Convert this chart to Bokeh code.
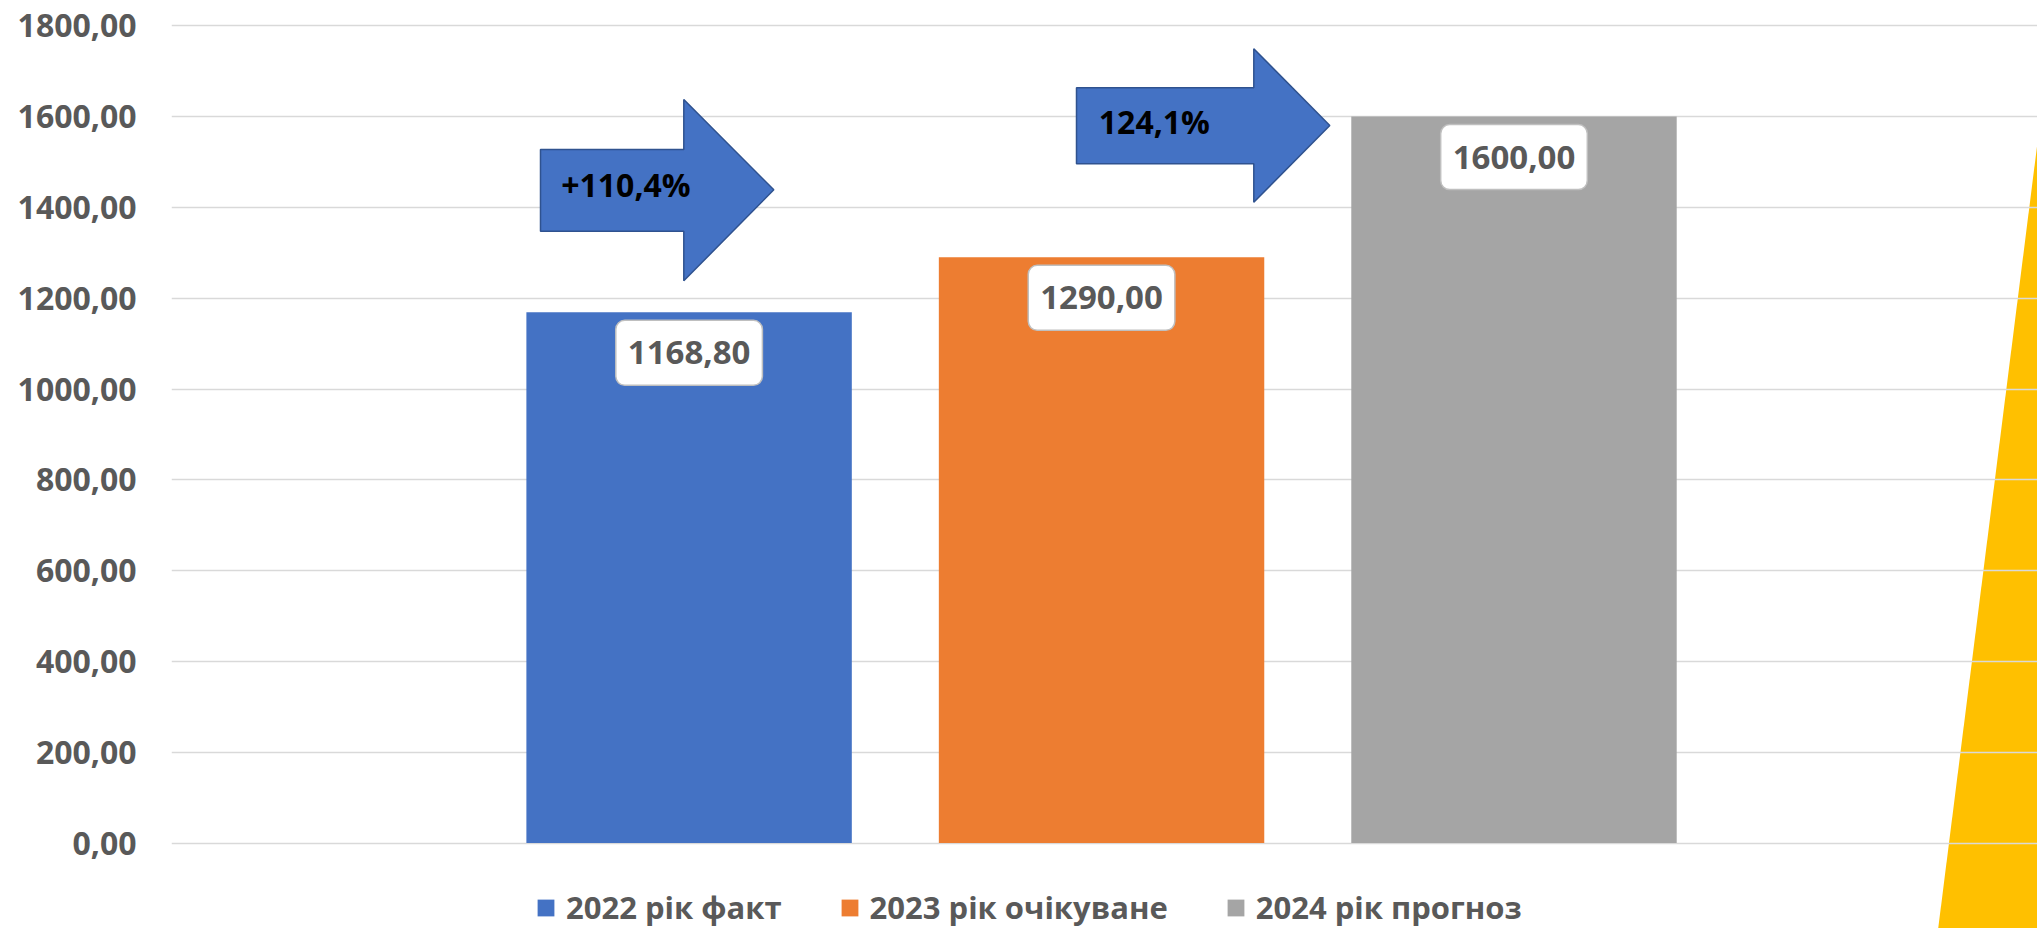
from bokeh.plotting import figure
from bokeh.models import ColumnDataSource, Range1d, Label
from bokeh.embed import file_html
from bokeh.resources import INLINE

# ---------------- data ----------------
categories = ["2022 рік факт", "2023 рік очікуване", "2024 рік прогноз"]
values = [1168.80, 1290.00, 1600.00]
value_labels = ["1168,80", "1290,00", "1600,00"]
growth_labels = ["+110,4%", "124,1%"]
y_ticks = [0, 200, 400, 600, 800, 1000, 1200, 1400, 1600, 1800]
y_tick_labels = ["0,00", "200,00", "400,00", "600,00", "800,00",
                 "1000,00", "1200,00", "1400,00", "1600,00", "1800,00"]
colors = ["#4472C4", "#ED7D31", "#A5A5A5"]

# ---------------- layout ----------------
W, H = 2037, 928
FONT = "Open Sans"
TXT = "#595959"

# helpers to place decorations (reference-pixel -> data units)
PX0, PXSTEP = 688.6, 412.45     # x pixel of category 0, pixels per category
PY0, PYSCALE = 842.5, 0.454     # y pixel of value 0, pixels per unit
FRAME_LEFT = 171


def dx(px):
    return (px - PX0) / PXSTEP


def dy(py):
    return (PY0 - py) / PYSCALE


x_start = (FRAME_LEFT - PX0) / PXSTEP
x_end = (W - PX0) / PXSTEP
y_end = PY0 / PYSCALE
y_start = -(H - PY0) / PYSCALE

p = figure(width=W, height=H, output_backend="svg", toolbar_location=None, tools="",
           x_range=Range1d(x_start, x_end), y_range=Range1d(y_start, y_end),
           x_axis_location=None, y_axis_location="left",
           min_border_left=FRAME_LEFT, min_border_right=0,
           min_border_top=0, min_border_bottom=0)
p.outline_line_color = None
p.background_fill_color = "white"
p.border_fill_color = "white"

# y axis
p.yaxis.ticker = y_ticks
p.yaxis.major_label_overrides = {t: l for t, l in zip(y_ticks, y_tick_labels)}
p.yaxis.axis_line_color = None
p.yaxis.major_tick_line_color = None
p.yaxis.minor_tick_line_color = None
p.yaxis.major_tick_out = 0
p.yaxis.major_tick_in = 0
p.yaxis.major_label_standoff = 35
p.yaxis.major_label_text_font = FONT
p.yaxis.major_label_text_font_style = "bold"
p.yaxis.major_label_text_font_size = "32px"
p.yaxis.major_label_text_color = TXT

p.xgrid.visible = False
p.ygrid.grid_line_color = "#D9D9D9"
p.ygrid.grid_line_width = 1.3

# yellow decorative wedge at the right edge
slope = (1937.7 - 2037) / (928 - 142)
bottom_x = 2037 + slope * (960 - 142)
yx = [dx(2037), dx(bottom_x), dx(2200), dx(2200)]
yy = [dy(142), dy(960), dy(960), dy(142)]
p.patch(yx, yy, fill_color="#FFC000", line_color=None, level="image")

# bars
src = ColumnDataSource(dict(x=list(range(len(values))), top=values,
                            color=colors, label=categories))
p.vbar(x="x", top="top", width=0.789, source=src, fill_color="color",
       line_color=None, legend_field="label")

# value labels
for i, (v, t) in enumerate(zip(values, value_labels)):
    p.add_layout(Label(x=i, y=v, text=t, text_align="center", text_baseline="top",
                       y_offset=-8, text_font=FONT, text_font_style="bold",
                       text_font_size="33px", text_color=TXT,
                       background_fill_color="white", border_line_color="#BFBFBF",
                       border_line_width=1.5, border_radius=9,
                       padding=dict(left=12, right=12, top=21, bottom=21)))


# growth arrows
def arrow(x0, xb, xt, bt, bb, ht, hb, tip):
    xs = [dx(x0), dx(xb), dx(xb), dx(xt), dx(xb), dx(xb), dx(x0)]
    ys = [dy(bt), dy(bt), dy(ht), dy(tip), dy(hb), dy(bb), dy(bb)]
    return xs, ys


a1 = arrow(540, 683.3, 773.3, 149, 230.7, 99, 280.3, 189.3)
a2 = arrow(1076, 1253.3, 1329.3, 87.3, 163.3, 48.3, 201.7, 125)
p.patches([a1[0], a2[0]], [a1[1], a2[1]], fill_color="#4472C4",
          line_color="#2F528F", line_width=1.5)

arrow_text_pos = [(560.7, 184), (1098.3, 120.5)]
for (tx, ty), t in zip(arrow_text_pos, growth_labels):
    p.add_layout(Label(x=dx(tx), y=dy(ty), text=t, text_align="left",
                       text_baseline="middle", text_font=FONT,
                       text_font_style="bold", text_font_size="32px",
                       text_color="black"))

# legend
lg = p.legend[0]
lg.orientation = "horizontal"
lg.location = (535 - FRAME_LEFT, 0)
lg.glyph_width = 21
lg.glyph_height = 21
lg.label_standoff = 10
lg.spacing = 57
lg.padding = 0
lg.margin = 0
lg.border_line_color = None
lg.background_fill_alpha = 0
lg.label_text_font = FONT
lg.label_text_font_style = "bold"
lg.label_text_font_size = "31px"
lg.label_text_color = TXT

open("out.html", "w").write(file_html(p, INLINE))
